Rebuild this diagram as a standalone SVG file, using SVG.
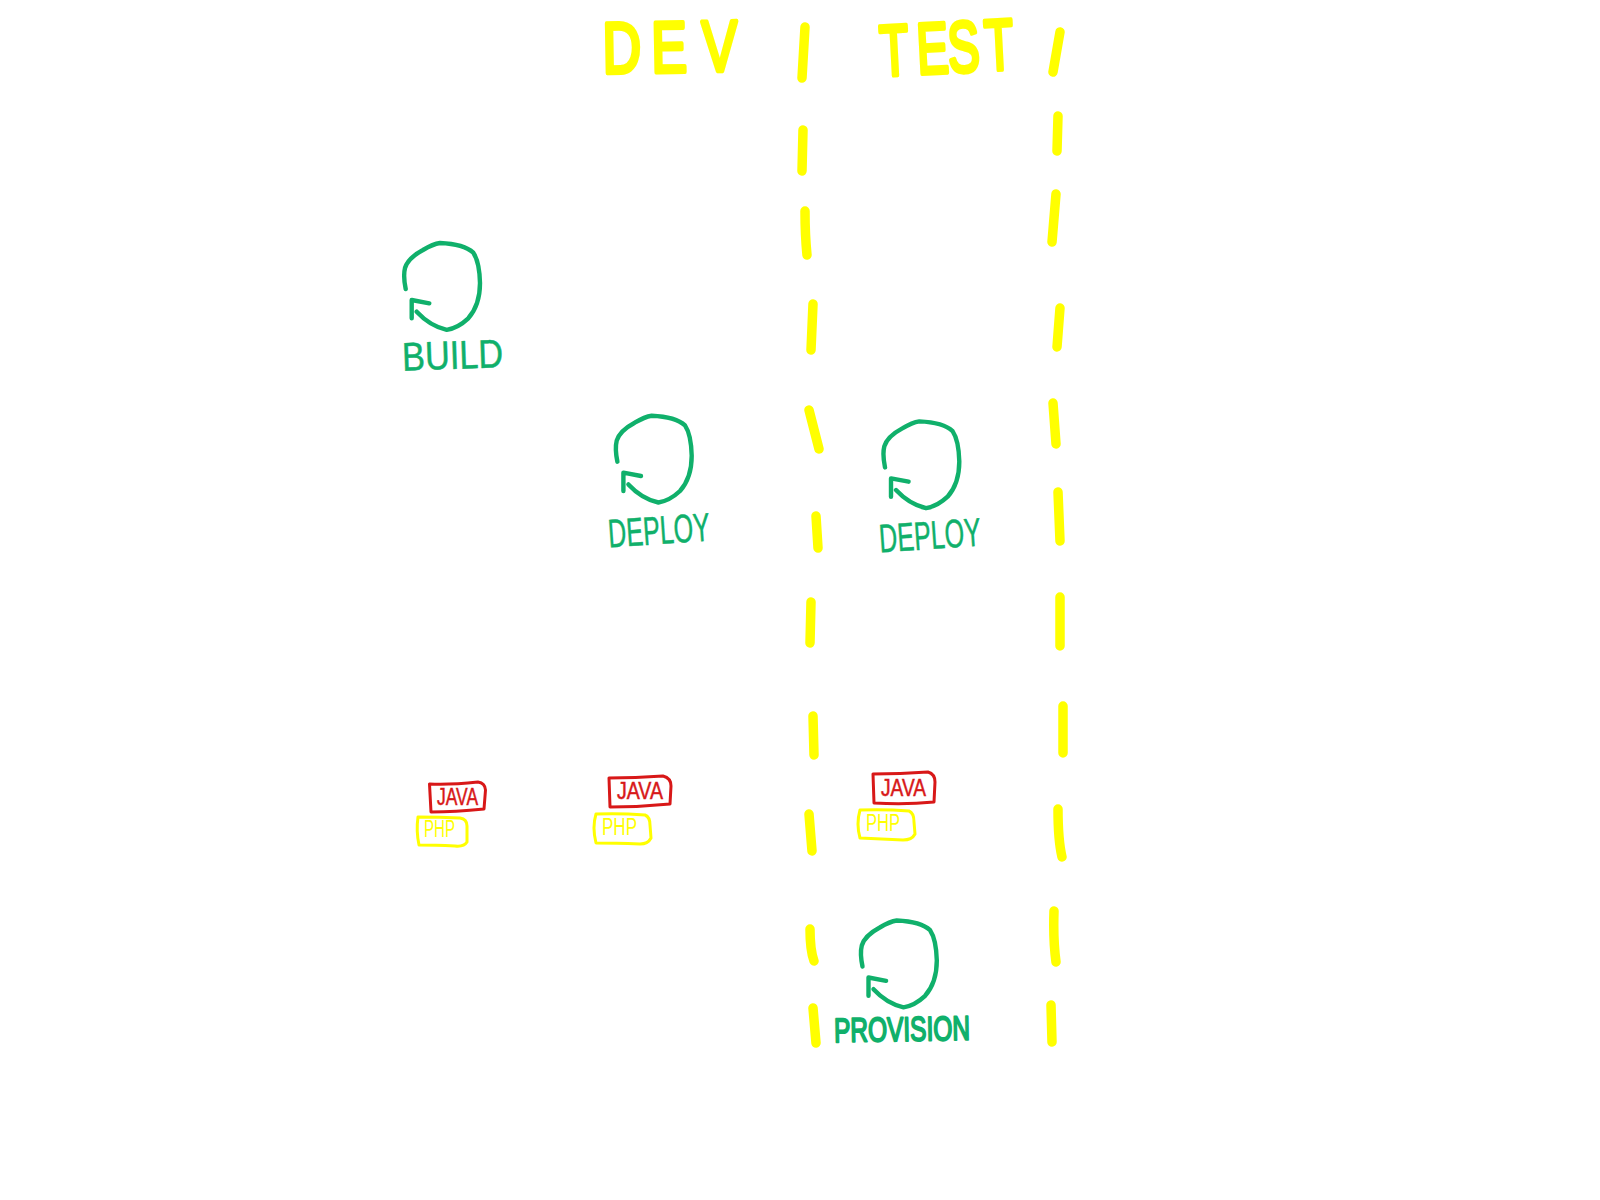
<svg xmlns="http://www.w3.org/2000/svg" width="1600" height="1200" viewBox="0 0 1600 1200">
<style>
.lane{fill:none;stroke:#ffff00;stroke-width:9.5;stroke-linecap:round}
.loop{fill:none;stroke:#10b06b;stroke-width:4.4;stroke-linecap:round;stroke-linejoin:round}
.t{font-family:"Liberation Sans",Arial,sans-serif}
.head{font-size:72px;fill:#ffff00;stroke:#ffff00;stroke-width:4.5;stroke-linejoin:round}
.lbl{font-size:40px;fill:#10b06b;stroke:#10b06b;stroke-width:0.5;stroke-linejoin:round}
.bold{font-size:34px;stroke-width:2}
.box{fill:none;stroke-width:3;stroke-linejoin:round}
.red{stroke:#d81818}.yel{stroke:#ffff00}
.jt{font-size:23px;fill:#d81818;stroke:#d81818;stroke-width:.5}
.pt{font-size:23px;fill:#ffff00}
</style>
<defs>
<g id="loop" class="loop">
<path d="M405.7 289Q403 276 405 268Q408 258 423 250Q433 244 440 243Q464 244 473.3 252.7Q479.5 262 480 283Q480 305 468.3 318.3Q458 328 446.7 329.8Q430 326 416.7 311.7"/>
<path d="M411.7 318.3L411.7 300L429.3 303.3"/>
</g>
</defs>
<rect width="1600" height="1200" fill="#ffffff"/>
<g id="connectors">
<path class="lane" d="M805 27L802 78M803 130L802 171M805 211Q805 235 807 255M813 304L811 350M809 410L819 449M816 516L818 548M811 602L810 643M813 716L814 755M809 814L812 851M810 929Q810 950 814 961M813 1008L816 1043"/>
<path class="lane" d="M1060 32L1053 72M1058 116L1057 151M1056 194L1052 242M1060 308L1057 347M1053 403L1056 444M1058 492L1060 541M1060 597L1060 646M1063 706L1063 753M1058 809Q1058 840 1062 857M1054 911Q1053 940 1056 962M1051 1005L1052 1042"/>
</g>
<g id="title-dev"><text class="t head" x="0 66 134" y="0" transform="translate(603 73) rotate(-1) scale(.74 1)">DEV</text></g>
<g id="title-test"><text class="t head" x="0 56 103 159" y="0" transform="translate(881 76) rotate(-3) scale(.66 1)">TEST</text></g>
<g id="build">
<use href="#loop"/>
<text class="t lbl" x="402" y="369" textLength="101" lengthAdjust="spacingAndGlyphs" transform="rotate(-2 450 355)">BUILD</text>
</g>
<g id="deploy-dev">
<use href="#loop" transform="translate(211.7 172.7)"/>
<text class="t lbl" x="608" y="544" textLength="102" lengthAdjust="spacingAndGlyphs" transform="rotate(-4 660 530)">DEPLOY</text>
</g>
<g id="deploy-test">
<use href="#loop" transform="translate(479.3 178.4)"/>
<text class="t lbl" x="879" y="549" textLength="102" lengthAdjust="spacingAndGlyphs" transform="rotate(-4 931 535)">DEPLOY</text>
</g>
<g id="provision">
<use href="#loop" transform="translate(456.8 677.5)"/>
<text class="t lbl bold" x="834" y="1041" textLength="136" lengthAdjust="spacingAndGlyphs" transform="rotate(-1 900 1030)">PROVISION</text>
</g>
<g id="java-1">
<path class="box red" d="M429.5 784Q450 785 478 782Q485 783 485.5 790L484 809Q455 812 431 812Z"/>
<text class="t jt" x="437" y="805" textLength="41" lengthAdjust="spacingAndGlyphs">JAVA</text>
</g>
<g id="php-1">
<path class="box yel" d="M418 817Q440 817 460 818Q467 819 467 826L467 842Q464 847 455 846Q435 845 419 845Q416 831 418 817Z"/>
<text class="t pt" x="424" y="837" textLength="31" lengthAdjust="spacingAndGlyphs">PHP</text>
</g>
<g id="java-2">
<path class="box red" d="M609 778Q635 778 663 776Q671 778 671 786L670 804Q640 807 610 807Z"/>
<text class="t jt" x="617" y="799" textLength="46" lengthAdjust="spacingAndGlyphs">JAVA</text>
</g>
<g id="php-2">
<path class="box yel" d="M596 814Q620 813 645 815Q650 817 650 825L651 838Q648 844 640 844Q615 843 596 843Q592 827 596 814Z"/>
<text class="t pt" x="602" y="835" textLength="35" lengthAdjust="spacingAndGlyphs">PHP</text>
</g>
<g id="java-3">
<path class="box red" d="M873 774Q900 774 928 772Q935 774 935 782L934 802Q905 805 874 803Z"/>
<text class="t jt" x="881" y="796" textLength="45" lengthAdjust="spacingAndGlyphs">JAVA</text>
</g>
<g id="php-3">
<path class="box yel" d="M860 810Q885 809 909 811Q914 813 914 822L915 834Q912 840 903 840Q880 839 860 838Q856 824 860 810Z"/>
<text class="t pt" x="866" y="831" textLength="34" lengthAdjust="spacingAndGlyphs">PHP</text>
</g>
</svg>
